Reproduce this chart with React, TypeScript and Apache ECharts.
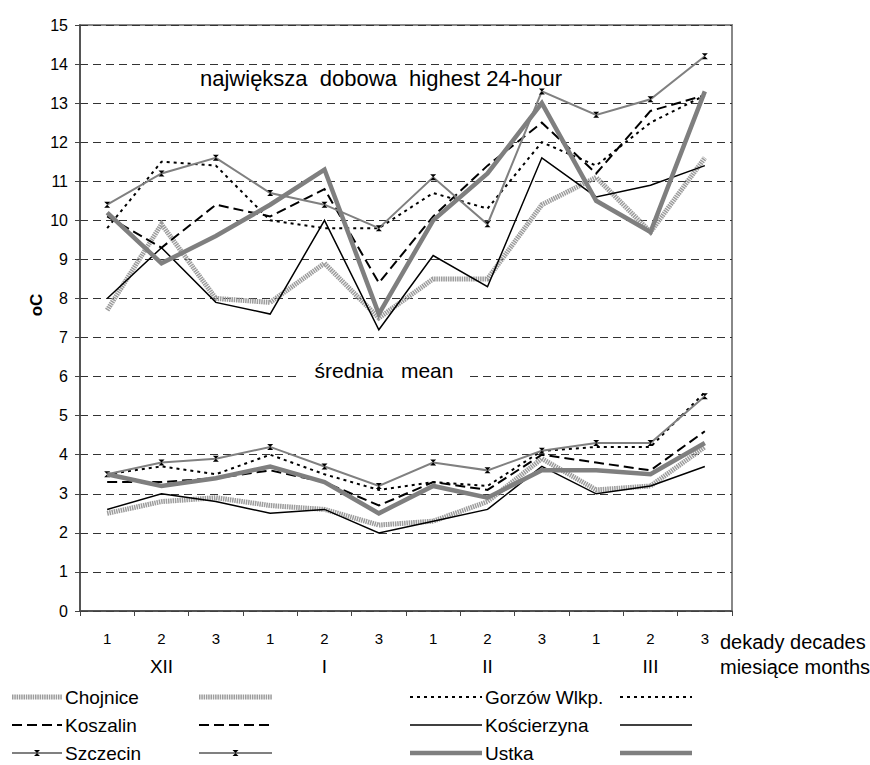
import React, { useEffect, useRef } from 'react';
import * as echarts from 'echarts';

const decades = ['1', '2', '3', '1', '2', '3', '1', '2', '3', '1', '2', '3'];
const months = ['XII', 'I', 'II', 'III'];
const categories = decades.map((d, i) => `${months[Math.floor(i / 3)]}-${d}`);

const stations = ['Chojnice', 'Gorzów Wlkp.', 'Koszalin', 'Kościerzyna', 'Szczecin', 'Ustka'];

// największa dobowa (highest 24-hour)
const chojniceMax = [7.7, 9.9, 8.0, 7.9, 8.9, 7.5, 8.5, 8.5, 10.4, 11.1, 9.7, 11.6];
const gorzowMax = [9.8, 11.5, 11.4, 10.0, 9.8, 9.8, 10.7, 10.3, 12.0, 11.4, 12.5, 13.2];
const koszalinMax = [10.1, 9.3, 10.4, 10.1, 10.8, 8.4, 10.1, 11.4, 12.5, 11.2, 12.8, 13.2];
const koscierzynaMax = [8.0, 9.3, 7.9, 7.6, 10.0, 7.2, 9.1, 8.3, 11.6, 10.6, 10.9, 11.4];
const szczecinMax = [10.4, 11.2, 11.6, 10.7, 10.4, 9.8, 11.1, 9.9, 13.3, 12.7, 13.1, 14.2];
const ustkaMax = [10.2, 8.9, 9.6, 10.4, 11.3, 7.6, 10.0, 11.2, 13.0, 10.5, 9.7, 13.3];

// średnia (mean)
const chojniceMean = [2.5, 2.8, 2.9, 2.7, 2.6, 2.2, 2.3, 2.8, 3.9, 3.1, 3.2, 4.2];
const gorzowMean = [3.5, 3.7, 3.5, 4.0, 3.5, 3.1, 3.3, 3.2, 4.1, 4.2, 4.2, 5.6];
const koszalinMean = [3.3, 3.3, 3.4, 3.6, 3.3, 2.7, 3.3, 3.1, 4.0, 3.8, 3.6, 4.6];
const koscierzynaMean = [2.6, 3.0, 2.8, 2.5, 2.6, 2.0, 2.3, 2.6, 3.7, 3.0, 3.2, 3.7];
const szczecinMean = [3.5, 3.8, 3.9, 4.2, 3.7, 3.2, 3.8, 3.6, 4.1, 4.3, 4.3, 5.5];
const ustkaMean = [3.5, 3.2, 3.4, 3.7, 3.3, 2.5, 3.2, 2.9, 3.6, 3.6, 3.5, 4.3];

const maxSeries = [chojniceMax, gorzowMax, koszalinMax, koscierzynaMax, szczecinMax, ustkaMax];
const meanSeries = [chojniceMean, gorzowMean, koszalinMean, koscierzynaMean, szczecinMean, ustkaMean];

const FONT = '"Liberation Sans", Arial, Helvetica, sans-serif';
const BOWTIE = 'path://M0,0L10,0L0,10L10,10Z';

const styles = [
  { color: '#9c9c9c', width: 5, type: [1.5, 0.8] as any, marker: false },
  { color: '#000000', width: 2, type: [3, 4] as any, marker: false },
  { color: '#000000', width: 2, type: [10, 5] as any, marker: false },
  { color: '#000000', width: 1.5, type: 'solid' as any, marker: false },
  { color: '#808080', width: 2, type: 'solid' as any, marker: true },
  { color: '#7f7f7f', width: 4.5, type: 'solid' as any, marker: false },
];

function buildSeries() {
  const out: any[] = [];
  stations.forEach((s, i) => {
    const st = styles[i];
    [maxSeries[i], meanSeries[i]].forEach((data, k) => {
      out.push({
        name: k === 0 ? s : `${s} (średnia)`,
        type: 'line',
        xAxisIndex: 0,
        yAxisIndex: 0,
        data,
        symbol: st.marker ? BOWTIE : 'none',
        symbolSize: st.marker ? [6, 6] : 0,
        showSymbol: st.marker,
        itemStyle: { color: '#000' },
        lineStyle: { color: st.color, width: st.width, type: st.type, cap: 'butt', join: 'miter' },
        z: 2 + i,
        silent: true,
      });
    });
  });
  return out;
}

function buildLegend() {
  const rows = [697, 725, 753];
  const cols = [
    { x1: 12, x2: 62 },
    { x1: 199, x2: 272 },
    { x1: 410, x2: 482 },
    { x1: 620, x2: 692 },
  ];
  const els: any[] = [];
  stations.forEach((s, i) => {
    const st = styles[i];
    const y = rows[Math.floor(i / 2)];
    const base = (i % 2) * 2;
    [cols[base], cols[base + 1]].forEach((c, k) => {
      els.push({
        type: 'line',
        shape: { x1: c.x1, y1: y, x2: c.x2, y2: y },
        style: {
          stroke: st.color,
          lineWidth: st.width,
          lineDash: Array.isArray(st.type) ? st.type : null,
          lineCap: 'butt',
        },
        silent: true,
      });
      if (st.marker) {
        const mx = (c.x1 + c.x2) / 2;
        els.push({
          type: 'polygon',
          shape: { points: [[mx - 3, y - 3], [mx + 3, y - 3], [mx - 3, y + 3], [mx + 3, y + 3]] },
          style: { fill: '#000' },
          silent: true,
        });
      }
      if (k === 0) {
        els.push({
          type: 'text',
          x: c.x2 + 3,
          y,
          style: { text: s, fontSize: 19, fontFamily: FONT, fill: '#000', align: 'left', verticalAlign: 'middle' },
          silent: true,
        });
      }
    });
  });
  return els;
}

export default function App() {
  const ref = useRef<HTMLDivElement>(null);
  useEffect(() => {
    if (!ref.current) return;
    const chart = echarts.init(ref.current, null, { renderer: 'svg' });
    chart.setOption({
      animation: false,
      backgroundColor: '#ffffff',
      textStyle: { fontFamily: FONT },
      grid: {
        left: 80,
        top: 25,
        right: 138,
        bottom: 154,
        show: true,
        borderColor: '#888888',
        borderWidth: 2,
        backgroundColor: 'transparent',
      },
      xAxis: [
        {
          type: 'category',
          data: categories,
          position: 'bottom',
          boundaryGap: true,
          axisLine: { show: true, lineStyle: { color: '#444', width: 1.5 } },
          axisTick: { show: true, length: 5, interval: 0, lineStyle: { color: '#444', width: 1 } },
          axisLabel: {
            interval: 0,
            margin: 20,
            fontSize: 15,
            color: '#000',
            fontFamily: FONT,
            formatter: (_v: string, i: number) => decades[i],
          },
          splitLine: { show: false },
        },
        {
          type: 'category',
          data: categories,
          position: 'bottom',
          gridIndex: 0,
          boundaryGap: true,
          axisLine: { show: false },
          axisTick: { show: false },
          splitLine: { show: false },
          axisLabel: {
            interval: 0,
            margin: 46,
            fontSize: 19,
            color: '#000',
            fontFamily: FONT,
            formatter: (_v: string, i: number) => (i % 3 === 1 ? months[(i - 1) / 3] : ''),
          },
        },
      ],
      yAxis: {
        type: 'value',
        min: 0,
        max: 15,
        interval: 1,
        axisLine: { show: true, lineStyle: { color: '#444', width: 1.5 } },
        axisTick: { show: true, length: 5, lineStyle: { color: '#444' } },
        axisLabel: { fontSize: 16, color: '#000', margin: 12, fontFamily: FONT },
        splitLine: { show: true, lineStyle: { color: '#333', width: 1, type: [8, 5] } },
      },
      series: buildSeries(),
      graphic: [
        {
          type: 'text',
          x: 381,
          y: 78,
          z: 100,
          style: {
            text: 'największa  dobowa  highest 24-hour',
            fontSize: 22,
            fontFamily: FONT,
            fill: '#000',
            align: 'center',
            verticalAlign: 'middle',
          },
        },
        {
          type: 'text',
          x: 384,
          y: 370,
          z: 100,
          style: {
            text: 'średnia   mean',
            fontSize: 21,
            fontFamily: FONT,
            fill: '#000',
            align: 'center',
            verticalAlign: 'middle',
            backgroundColor: '#fff',
            padding: [2, 14],
          },
        },
        {
          type: 'text',
          x: 720,
          y: 642,
          style: { text: 'dekady decades', fontSize: 20, fontFamily: FONT, fill: '#000', align: 'left', verticalAlign: 'middle' },
        },
        {
          type: 'text',
          x: 720,
          y: 667,
          style: { text: 'miesiące months', fontSize: 20, fontFamily: FONT, fill: '#000', align: 'left', verticalAlign: 'middle' },
        },
        {
          type: 'text',
          x: 36,
          y: 305,
          rotation: Math.PI / 2,
          style: { text: 'oC', fontSize: 17, fontWeight: 'bold', fontFamily: FONT, fill: '#000', align: 'center', verticalAlign: 'middle' },
        },
        ...buildLegend(),
      ],
    });
    return () => chart.dispose();
  }, []);
  return <div ref={ref} style={{ position: 'fixed', left: 0, top: 0, width: 870, height: 765 }} />;
}
